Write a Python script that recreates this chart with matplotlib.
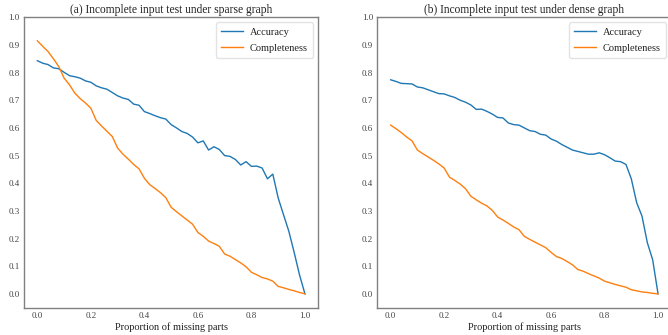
import numpy as np
import matplotlib
matplotlib.use("Agg")
import matplotlib.pyplot as plt

plt.rcParams['font.family'] = ['Liberation Serif', 'DejaVu Serif']

# Proportion of missing parts (0 to 1 in steps of 0.02)
missing = np.round(np.arange(0, 1.0001, 0.02), 2)

sparse_accuracy = [
    0.843, 0.834, 0.829, 0.817, 0.814, 0.801, 0.789, 0.785, 0.780, 0.770,
    0.765, 0.752, 0.745, 0.740, 0.728, 0.716, 0.708, 0.703, 0.686, 0.682,
    0.659, 0.652, 0.644, 0.637, 0.632, 0.612, 0.600, 0.587, 0.580, 0.567,
    0.546, 0.553, 0.520, 0.532, 0.522, 0.500, 0.497, 0.486, 0.466, 0.478,
    0.461, 0.462, 0.455, 0.416, 0.433, 0.347, 0.286, 0.226, 0.149, 0.068,
    0.000,
]
sparse_completeness = [
    0.915, 0.895, 0.876, 0.850, 0.822, 0.780, 0.756, 0.726, 0.706, 0.690,
    0.671, 0.627, 0.607, 0.588, 0.569, 0.527, 0.505, 0.487, 0.468, 0.452,
    0.418, 0.395, 0.381, 0.366, 0.348, 0.313, 0.297, 0.282, 0.267, 0.252,
    0.222, 0.208, 0.191, 0.182, 0.172, 0.144, 0.136, 0.124, 0.112, 0.098,
    0.078, 0.069, 0.059, 0.054, 0.046, 0.027, 0.022, 0.016, 0.011, 0.005,
    0.000,
]

dense_accuracy = [
    0.774, 0.768, 0.761, 0.760, 0.759, 0.748, 0.745, 0.738, 0.731, 0.724,
    0.723, 0.716, 0.710, 0.700, 0.693, 0.683, 0.667, 0.668, 0.660, 0.650,
    0.638, 0.636, 0.618, 0.612, 0.610, 0.600, 0.590, 0.587, 0.577, 0.574,
    0.560, 0.552, 0.540, 0.530, 0.520, 0.515, 0.510, 0.505, 0.505, 0.510,
    0.503, 0.492, 0.480, 0.478, 0.468, 0.416, 0.330, 0.281, 0.185, 0.123,
    0.000,
]
dense_completeness = [
    0.610, 0.597, 0.583, 0.567, 0.553, 0.520, 0.507, 0.495, 0.483, 0.470,
    0.455, 0.422, 0.410, 0.397, 0.380, 0.353, 0.340, 0.328, 0.318, 0.302,
    0.278, 0.267, 0.255, 0.242, 0.232, 0.208, 0.197, 0.187, 0.177, 0.167,
    0.150, 0.135, 0.128, 0.117, 0.105, 0.088, 0.082, 0.073, 0.065, 0.057,
    0.046, 0.040, 0.034, 0.029, 0.024, 0.015, 0.011, 0.007, 0.005, 0.002,
    0.000,
]

titles = ["(a) Incomplete input test under sparse graph",
          "(b) Incomplete input test under dense graph"]
xlabel = "Proportion of missing parts"
series_names = ["Accuracy", "Completeness"]
xticks = [0.0, 0.2, 0.4, 0.6, 0.8, 1.0]
yticks = [0.0, 0.1, 0.2, 0.3, 0.4, 0.5, 0.6, 0.7, 0.8, 0.9, 1.0]

fig = plt.figure(figsize=(6.68, 3.35), dpi=100)
axes = [fig.add_axes([0.0359, 0.0815, 0.4406, 0.8669]),
        fig.add_axes([0.5648, 0.0815, 0.4403, 0.8669])]

data = [(sparse_accuracy, sparse_completeness),
        (dense_accuracy, dense_completeness)]

spine_col = "#808080"
text_col = "#444444"

for ax, title, (acc, comp) in zip(axes, titles, data):
    ax.plot(missing, acc, color="#1f77b4", lw=1.0, label=series_names[0])
    ax.plot(missing, comp, color="#ff7f0e", lw=1.0, label=series_names[1])
    ax.set_xlim(-0.05, 1.05)
    ax.set_ylim(-0.05, 1.0)
    ax.set_xticks(xticks)
    ax.set_yticks(yticks)
    ax.set_xticklabels([f"{t:.1f}" for t in xticks])
    ax.set_yticklabels([f"{t:.1f}" for t in yticks])
    ax.tick_params(labelsize=6.5, colors=spine_col, labelcolor=text_col,
                   length=0, pad=3)
    for s in ax.spines.values():
        s.set_color(spine_col)
        s.set_linewidth(1.0)
    ax.set_title(title, fontsize=8.3, color="#222222", pad=3)
    ax.set_xlabel(xlabel, fontsize=7.5, color="#222222", labelpad=2)
    leg = ax.legend(loc="upper right", fontsize=7.5, frameon=True,
                    handlelength=2.1, handletextpad=0.7,
                    borderpad=0.5, labelspacing=0.6)
    leg.get_frame().set_edgecolor("#dddddd")
    for t in leg.get_texts():
        t.set_color("#222222")

fig.savefig("out.png", dpi=100)
